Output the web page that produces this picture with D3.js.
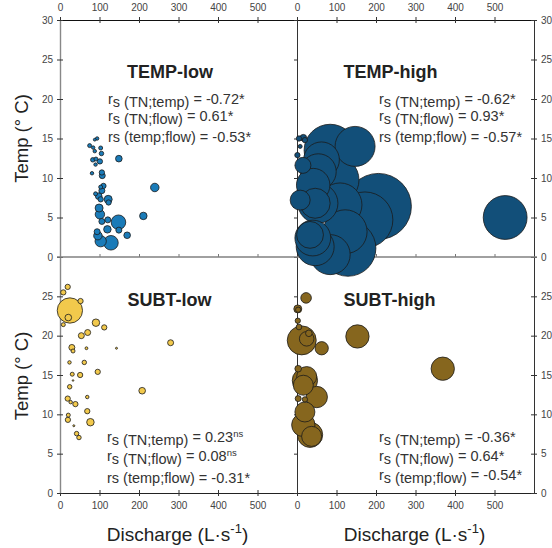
<!DOCTYPE html>
<html>
<head>
<meta charset="utf-8">
<script src="https://cdn.jsdelivr.net/npm/d3@7"></script>
<style>
  body { margin: 0; background: #fff; }
  svg { font-family: "Liberation Sans", Arial, sans-serif; }
  .tick text { fill: #444; font-size: 10px; }
</style>
</head>
<body>
<svg id="chart" width="552" height="548"></svg>
<script>
// [discharge (L/s), temp (°C), TN]
const tempLow = [
  [88,14.85,0.02],[94,15.0,0.03],[75,14.1,0.04],[84,13.85,0.03],[103,13.8,0.04],[88,13.4,0.03],
  [105,13.1,0.05],[83,12.3,0.05],[91,12.4,0.04],[101,12.1,0.07],[90,11.7,0.03],[149,12.45,0.11],
  [81,10.6,0.03],[106,10.7,0.07],[107,10.3,0.09],[110,9.0,0.07],[103,8.85,0.04],[240,8.8,0.18],
  [90,8.0,0.04],[98,7.7,0.11],[122,7.3,0.16],[123,6.9,0.07],[103,7.3,0.07],[99,6.2,0.16],
  [101,5.4,0.22],[106,4.5,0.09],[121,4.7,0.09],[148,4.4,0.53],[211,5.2,0.14],[149,3.4,0.09],
  [120,3.5,0.14],[94,3.2,0.09],[96,2.7,0.18],[103,2.0,0.32],[129,1.8,0.53],[170,2.75,0.11],
  [106,8.4,0.09]
];
const tempHigh = [
  [5,15.0,0.07],[16,15.1,0.11],[20,14.8,0.07],[1,12.9,0.07],[8,14.0,0.04],[147,14.0,4.0],
  [84,13.5,6.8],[62,12.3,3.2],[54,10.8,3.2],[96,9.75,5.8],[41,9.1,2.8],[46,6.8,2.25],
  [53,6.8,4.0],[109,6.6,4.8],[206,6.4,10.9],[172,4.7,7.8],[129,1.1,7.8],[33,2.8,1.8],
  [40,2.4,3.2],[46,1.3,3.6],[84,0.3,4.0],[527,5.0,4.8],[15,11.6,0.64],[8,7.2,1.0],[122,3.2,4.8]
];
const subtLow = [
  [19.5,26.2,0.07],[8.4,25.5,0.07],[25,23.2,1.6],[21,22.3,0.11],[52,24.4,0.07],[8.4,21.4,0.04],
  [91,21.65,0.14],[112,21.05,0.07],[70,20.4,0.09],[54,20.0,0.09],[30,18.5,0.09],[33,18.05,0.04],
  [67,18.4,0.02],[143,18.4,0.01],[280,19.1,0.09],[24,16.6,0.03],[61.5,16.6,0.05],[31,15.1,0.04],
  [51,15.0,0.07],[95.5,15.4,0.07],[33,14.3,0.005],[24.5,13.5,0.05],[208,13.0,0.11],[19.5,12.0,0.07],
  [27,11.55,0.03],[39,11.3,0.07],[69,12.2,0.03],[21,9.9,0.04],[20,9.3,0.07],[69,10.4,0.07],
  [77,9.0,0.14],[35,8.55,0.01],[42,7.55,0.05],[48,7.05,0.05]
];
const subtHigh = [
  [23,24.8,0.28],[2,23.4,0.16],[3,23.3,0.07],[2,21.9,0.07],[5,21.1,0.08],[12,19.4,2.1],
  [24.5,19.6,0.53],[30,20.3,0.11],[62.5,18.4,0.44],[153,19.9,1.36],[369,15.8,1.36],[3,15.8,0.11],
  [20,14.3,1.6],[24.5,14.8,1.0],[16,13.7,1.0],[50,12.2,1.14],[20,11.9,0.07],[20,10.3,1.0],
  [16,8.65,1.36],[33,7.4,1.6],[37,7.2,1.0],[3,12.0,0.09]
];

const xTicks = [0, 100, 200, 300, 400, 500];
const yTicksTop = [0, 5, 10, 15, 20, 25, 30];
const yTicksBottom = [0, 5, 10, 15, 20, 25];

const titles = ["TEMP-low", "TEMP-high", "SUBT-low", "SUBT-high"];
// [pair, value, significance, subscript r_s]
const stats = [
  [["TN;temp", "-0.72", "*", true], ["TN;flow", "0.61", "*", true], ["temp;flow", "-0.53", "*", false]],
  [["TN;temp", "-0.62", "*", true], ["TN;flow", "0.93", "*", true], ["temp;flow", "-0.57", "*", false]],
  [["TN;temp", "0.23", "ns", true], ["TN;flow", "0.08", "ns", true], ["temp;flow", "-0.31", "*", false]],
  [["TN;temp", "-0.36", "*", true], ["TN;flow", "0.64", "*", true], ["temp;flow", "-0.54", "*", true]]
];
const colors = ["#1a7bb8", "#124f79", "#f2c94c", "#86661e"];

const svg = d3.select("#chart");

var xLeft = d3.scaleLinear().domain([0, 600]).range([60, 297]);
var xRight = d3.scaleLinear().domain([0, 600]).range([297, 534]);
var yTop = d3.scaleLinear().domain([0, 30]).range([257, 20]);
var yBottom = d3.scaleLinear().domain([0, 30]).range([493, 257]);
var r = d3.scaleSqrt().domain([0, 12]).range([0, 34.64]);

function cross(g, a1, a2) {
  g.selectAll(".tick line").attr(a1, 3).attr(a2, -3).attr("stroke", "#333");
}

// top axes
[xLeft, xRight].forEach(x => {
  svg.append("g").attr("transform", "translate(0,20)")
    .call(d3.axisTop(x).tickValues(xTicks).tickSize(3).tickSizeOuter(0).tickPadding(6))
    .call(g => cross(g, "y1", "y2"))
    .call(g => g.select(".domain").attr("stroke", "#111"));
  // bottom axes
  svg.append("g").attr("transform", "translate(0,493)")
    .call(d3.axisBottom(x).tickValues(xTicks).tickSize(3).tickSizeOuter(0).tickPadding(6))
    .call(g => cross(g, "y2", "y1"))
    .call(g => g.select(".domain").attr("stroke", "#222"));
  // middle ticks on the zero line
  svg.append("g").attr("transform", "translate(0,257)")
    .call(d3.axisTop(x).tickValues(xTicks).tickSize(3).tickSizeOuter(0).tickFormat(""))
    .call(g => g.select(".domain").remove())
    .call(g => g.selectAll(".tick line").attr("stroke", "#777"));
});

// left, middle and right y axes
[[yTop, yTicksTop], [yBottom, yTicksBottom]].forEach(([y, ticks]) => {
  svg.append("g").attr("transform", "translate(60,0)")
    .call(d3.axisLeft(y).tickValues(ticks).tickSize(3).tickSizeOuter(0).tickPadding(4))
    .call(g => cross(g, "x1", "x2"))
    .call(g => g.select(".domain").attr("stroke", "#888").attr("stroke-width", 1.4));
  svg.append("g").attr("transform", "translate(297,0)")
    .call(d3.axisLeft(y).tickValues(ticks).tickSize(3).tickSizeOuter(0).tickFormat(""))
    .call(g => g.select(".domain").attr("stroke", "#333"))
    .call(g => g.selectAll(".tick line").attr("stroke", "#333"));
  svg.append("g").attr("transform", "translate(534,0)")
    .call(d3.axisRight(y).tickValues(ticks).tickSize(3).tickSizeOuter(0).tickPadding(4))
    .call(g => cross(g, "x2", "x1"))
    .call(g => g.select(".domain").attr("stroke", "#333"));
});

// zero line between the rows
svg.append("line")
  .attr("x1", 57).attr("x2", 537)
  .attr("y1", yTop(0)).attr("y2", yTop(0))
  .attr("stroke", "#808080").attr("stroke-width", 1.6);

const panels = [
  { data: tempLow, x: xLeft, y: yTop },
  { data: tempHigh, x: xRight, y: yTop },
  { data: subtLow, x: xLeft, y: yBottom },
  { data: subtHigh, x: xRight, y: yBottom }
];

// bottom row first so the large TEMP-high bubbles sit on top
[2, 3, 0, 1].forEach(i => {
  const p = panels[i];
  const sorted = p.data.slice().sort((a, b) => b[2] - a[2]);
  svg.append("g")
    .selectAll("circle")
    .data(sorted)
    .enter()
    .append("circle")
      .attr("cx", d => p.x(d[0]))
      .attr("cy", d => p.y(d[1]))
      .attr("r", d => Math.max(r(d[2]), 0.8))
      .attr("fill", colors[i])
      .attr("stroke", "#1b1b1b")
      .attr("stroke-width", 0.8);
});

// panel titles
const titlePos = [[170, 78], [390.5, 78], [169.5, 306], [389.5, 306]];
titles.forEach((t, i) => {
  svg.append("text")
    .attr("x", titlePos[i][0]).attr("y", titlePos[i][1])
    .attr("text-anchor", "middle")
    .attr("font-size", 18).attr("font-weight", "bold").attr("fill", "#222")
    .text(t);
});

// correlation lines
const statPos = [[108, 106.5], [379, 106.5], [107, 444.5], [379, 444.5]];
const lineGaps = [[0, 17.5, 35], [0, 17.5, 35], [0, 19, 38], [0, 19, 38]];
stats.forEach((lines, i) => {
  lines.forEach((s, j) => {
    const base = statPos[i][1] + lineGaps[i][j];
    const t = svg.append("text")
      .attr("x", statPos[i][0]).attr("y", base)
      .attr("font-size", 14.5).attr("fill", "#333");
    if (s[3]) {
      t.attr("y", base - 3);
      t.append("tspan").text("r");
      t.append("tspan").attr("dy", 3).text("s (" + s[0] + ")");
      t.append("tspan").attr("dy", -3).text(" = " + s[1]);
    } else {
      t.append("tspan").text("rs (" + s[0] + ") = " + s[1]);
    }
    if (s[2] === "ns") {
      t.append("tspan").attr("dy", -5).attr("font-size", 9.5).text("ns");
    } else {
      t.append("tspan").text(s[2]);
    }
  });
});

// axis titles
[yTop, yBottom].forEach(y => {
  const cy = (y(0) + y(y === yTop ? 30 : 30)) / 2 + (y === yTop ? 0 : 1);
  svg.append("text")
    .attr("transform", "translate(28," + cy + ") rotate(-90)")
    .attr("text-anchor", "middle")
    .attr("font-size", 18.5).attr("fill", "#222")
    .text("Temp (° C)");
});
[xLeft, xRight].forEach(x => {
  const t = svg.append("text")
    .attr("x", x(300) - 1).attr("y", 541)
    .attr("text-anchor", "middle")
    .attr("font-size", 19).attr("fill", "#222");
  t.append("tspan").text("Discharge (L·s");
  t.append("tspan").attr("dy", -8).attr("font-size", 13).text("-1");
  t.append("tspan").attr("dy", 8).text(")");
});
</script>
</body>
</html>
